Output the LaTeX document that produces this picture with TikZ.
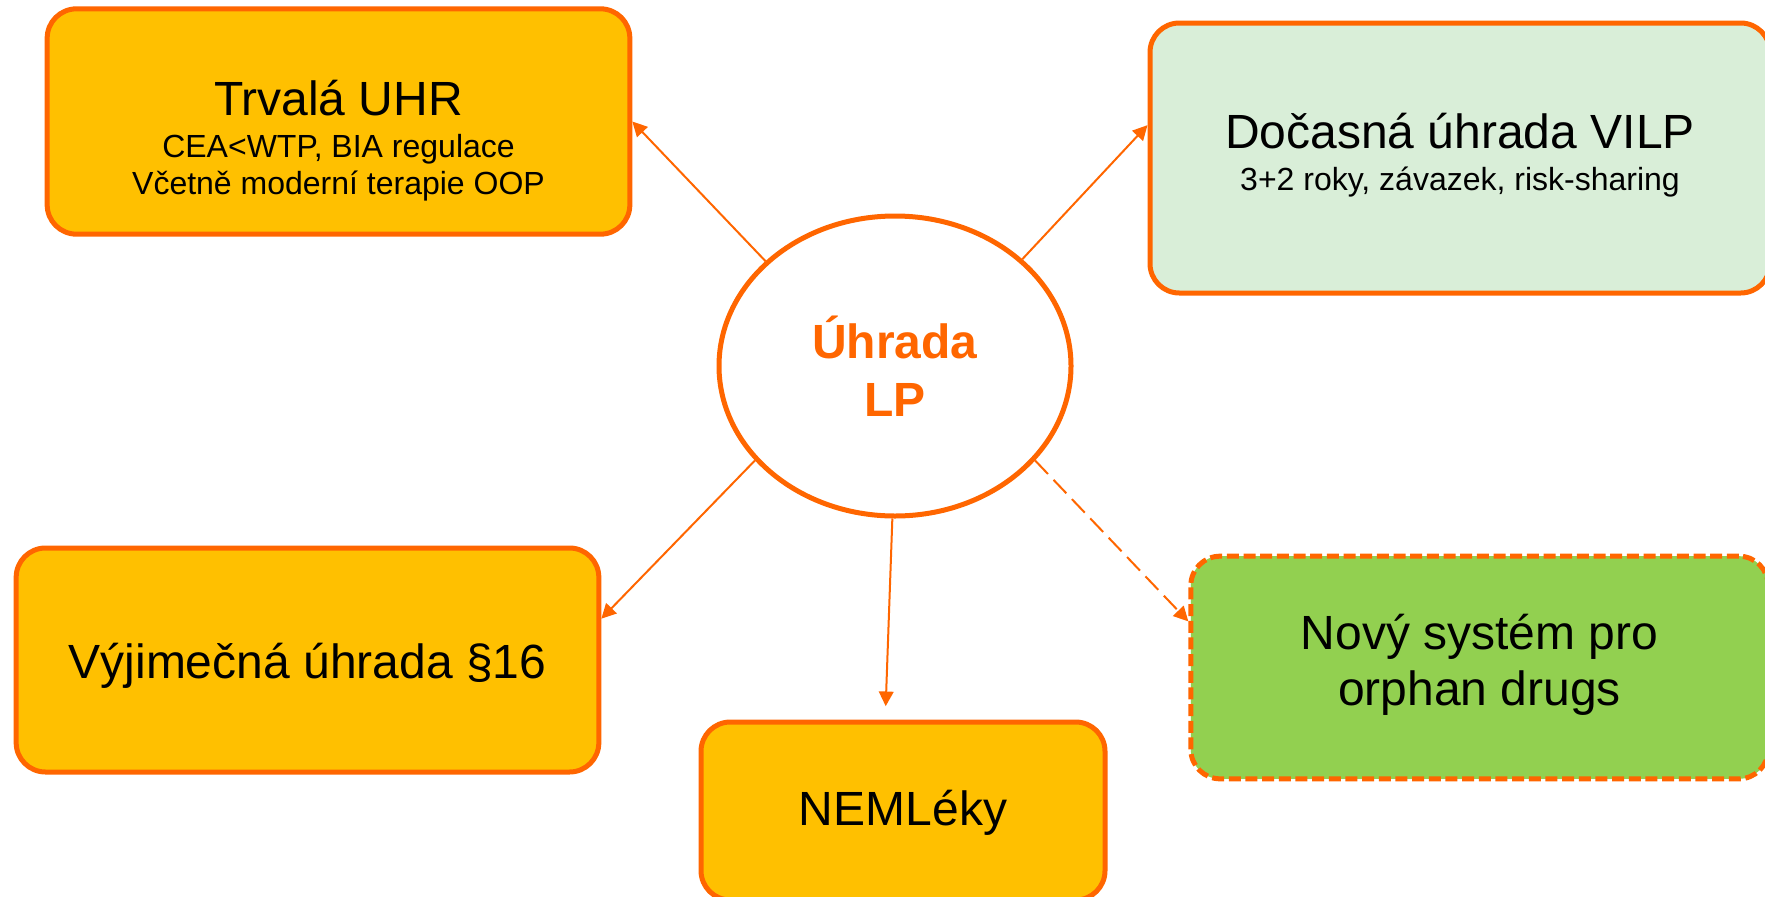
\documentclass[tikz,border=0pt]{standalone}
\usepackage{fontspec}
\setmainfont{Liberation Sans}
\usetikzlibrary{arrows.meta,shapes.geometric}
\definecolor{uhrorange}{HTML}{FF6600}
\definecolor{uhrgold}{HTML}{FFC000}
\definecolor{uhrmint}{HTML}{D9EED8}
\definecolor{uhrgreen}{HTML}{92D050}
\newcommand{\subline}[1]{{\fontsize{24}{28}\selectfont #1}}

\begin{document}
\begin{tikzpicture}[
  x=0.75pt, y=-0.75pt,
  box/.style={draw=uhrorange, line width=3.75pt, rounded corners=22pt, align=center,
              fill=uhrgold, inner sep=0pt, text depth=0pt, font=\fontsize{36}{42}\selectfont},
  hub/.style={ellipse, draw=uhrorange, line width=3.75pt, fill=white, inner sep=0pt,
              minimum width=264pt, minimum height=225pt, align=center,
              text=uhrorange, font=\bfseries\fontsize{36}{43.5}\selectfont},
  arrow/.style={-{Triangle[length=11pt,width=11pt]}, draw=uhrorange, line width=1.5pt}
]
\useasboundingbox (0,0) rectangle (1765,896);

\node[hub] (uhrada) at (895,366) {Úhrada\\LP};
\node[box, minimum width=437pt, minimum height=169pt, text height=110pt] (trvala) at (338.5,121.5)
  {Trvalá UHR\\[-10.3pt]\subline{CEA<WTP, BIA regulace}\\[-13.9pt]\subline{Včetně moderní terapie OOP}};
\node[box, fill=uhrmint, minimum width=465pt, minimum height=202.5pt, text height=48.5pt] (docasna) at (1460,158)
  {Dočasná úhrada VILP\\[-10.25pt]\subline{3+2 roky, závazek, risk-sharing}};
\node[box, minimum width=437pt, minimum height=168pt, text height=27.5pt] (vyjim) at (307.5,660)
  {Výjimečná úhrada §16};
\node[box, minimum width=303pt, minimum height=133.5pt, text height=21pt] (nemleky) at (903,811) {NEMLéky};
\node[box, fill=uhrgreen, dash pattern=on 9pt off 3.5pt, minimum width=433pt, minimum height=167pt,
  text height=56.25pt] (novy) at (1479.5,667.5) {Nový systém pro\\orphan drugs};

\draw[arrow] (uhrada.141) -- (trvala.east);
\draw[arrow] (uhrada.40) -- (docasna.174);
\draw[arrow] (uhrada.214) -- (vyjim.8);
\draw[arrow, shorten >=10pt] (uhrada.269) -- (nemleky.101);
\draw[arrow, dash pattern=on 14pt off 6pt] (uhrada.326) -- (novy.171);
\end{tikzpicture}
\end{document}
